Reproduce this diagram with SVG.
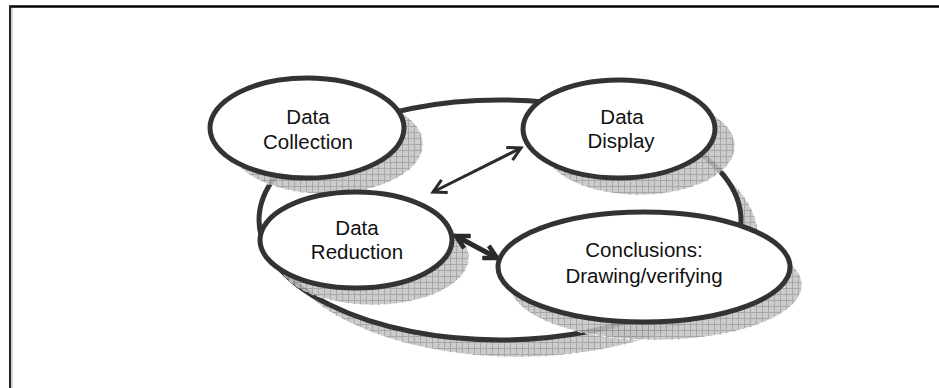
<svg xmlns="http://www.w3.org/2000/svg" width="939" height="388" viewBox="0 0 939 388">
<style>
.node{fill:#fff;stroke:#333;stroke-width:5}
.shadow{fill:url(#grid);stroke:#fff;stroke-width:1;stroke-dasharray:5 3;opacity:0.85}
.ring{fill:#fff;stroke:#333;stroke-width:5}
.lbl{font-family:"Liberation Sans",Arial,sans-serif;font-size:20.5px;fill:#111;text-anchor:middle}
.conn{fill:none;stroke:#2a2a2a}
</style>
<defs>
<pattern id="grid" width="6" height="6" patternUnits="userSpaceOnUse">
<rect width="6" height="6" fill="#c4c4c4"/>
<path d="M0,0.5H6M0.5,0V6" stroke="#9a9a9a" stroke-width="1"/>
</pattern>
<marker id="ah1" markerUnits="userSpaceOnUse" viewBox="0 0 18 18" refX="15" refY="9" markerWidth="18" markerHeight="18" orient="auto-start-reverse">
<path d="M2,2 L15,9 L2,16" fill="none" stroke="#2a2a2a" stroke-width="3"/>
</marker>
<marker id="ah2" markerUnits="userSpaceOnUse" viewBox="0 0 18 18" refX="15" refY="9" markerWidth="18" markerHeight="18" orient="auto-start-reverse">
<path d="M2,2 L15,9 L2,16" fill="none" stroke="#2a2a2a" stroke-width="4.5"/>
</marker>
</defs>
<g id="frame">
<line x1="9" y1="6.5" x2="939" y2="6.5" stroke="#000" stroke-width="2.5"/>
<line x1="10" y1="6" x2="10" y2="388" stroke="#222" stroke-width="2"/>
<line x1="12" y1="8" x2="12" y2="388" stroke="#aaa" stroke-width="1"/>
</g>
<g id="ring">
<ellipse class="shadow" cx="518" cy="237" rx="240" ry="120"/>
<ellipse class="ring" cx="500" cy="220" rx="241" ry="120"/>
</g>
<g id="shadows">
<ellipse class="shadow" cx="326" cy="144" rx="97" ry="50"/>
<ellipse class="shadow" cx="639" cy="146" rx="96" ry="49"/>
<ellipse class="shadow" cx="373" cy="257" rx="96" ry="48"/>
<ellipse class="shadow" cx="656" cy="285" rx="146" ry="55"/>
</g>
<g id="connectors">
<line class="conn" x1="433" y1="192" x2="521" y2="148" stroke-width="3" marker-start="url(#ah1)" marker-end="url(#ah1)"/>
<line class="conn" x1="456" y1="236" x2="497" y2="258" stroke-width="5" marker-start="url(#ah2)" marker-end="url(#ah2)"/>
</g>
<g id="data-collection">
<ellipse class="node" cx="307" cy="128" rx="97" ry="50"/>
<text class="lbl" x="308" y="124">Data</text>
<text class="lbl" x="308" y="149">Collection</text>
</g>
<g id="data-display">
<ellipse class="node" cx="619" cy="129" rx="96" ry="49"/>
<text class="lbl" x="622" y="124">Data</text>
<text class="lbl" x="621" y="148">Display</text>
</g>
<g id="data-reduction">
<ellipse class="node" cx="356" cy="240" rx="96" ry="48"/>
<text class="lbl" x="357" y="235">Data</text>
<text class="lbl" x="357" y="259">Reduction</text>
</g>
<g id="conclusions">
<ellipse class="node" cx="644" cy="267" rx="146" ry="55"/>
<text class="lbl" x="644" y="257">Conclusions:</text>
<text class="lbl" x="644" y="283">Drawing/verifying</text>
</g>
</svg>
